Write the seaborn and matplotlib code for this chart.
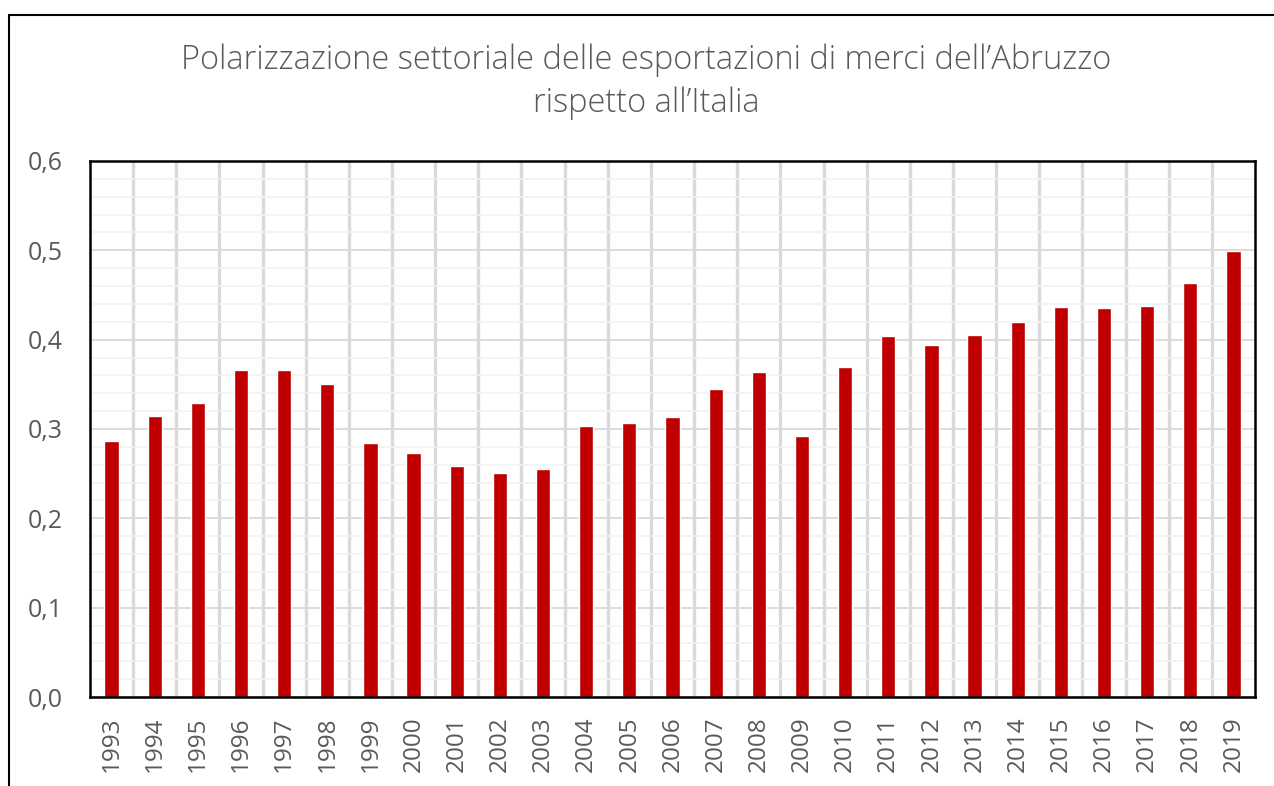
import matplotlib
matplotlib.use("Agg")
import matplotlib.pyplot as plt
import seaborn as sns
import pandas as pd
import numpy as np
from matplotlib.patches import Rectangle
from matplotlib.ticker import MultipleLocator, FuncFormatter

years = [str(y) for y in range(1993, 2020)]
values = [0.287, 0.315, 0.329, 0.366, 0.366, 0.350, 0.284, 0.273, 0.259, 0.251,
          0.255, 0.303, 0.307, 0.313, 0.345, 0.364, 0.292, 0.369, 0.404, 0.394,
          0.405, 0.420, 0.437, 0.435, 0.438, 0.463, 0.499]
title_lines = ["Polarizzazione settoriale delle esportazioni di merci dell\u2019Abruzzo",
               "rispetto all\u2019Italia"]

df = pd.DataFrame({"anno": years, "valore": values})

sns.set_theme(style="white")
plt.rcParams['font.family'] = ['Open Sans', 'DejaVu Sans']

fig = plt.figure(figsize=(12.74, 7.86), dpi=100)
ax = fig.add_axes([90/1274, 1-697/786, (1255-90)/1274, (697-161)/786])

# gridlines
ax.set_ylim(0, 0.6)
ax.yaxis.set_major_locator(MultipleLocator(0.1))
ax.yaxis.set_minor_locator(MultipleLocator(0.02))
ax.grid(axis='y', which='minor', color='#F2F2F2', lw=1.2, zorder=0)
ax.grid(axis='y', which='major', color='#D9D9D9', lw=1.3, zorder=0)
for i in range(len(years) - 1):
    ax.axvline(i + 0.5, color='#D9D9D9', lw=2.4, zorder=0.5)
ax.set_axisbelow(True)

sns.barplot(data=df, x="anno", y="valore", color="#C00000", saturation=1,
            width=0.33, ax=ax, zorder=2)
ax.set_xlim(-0.5, len(years) - 0.5)
ax.set_ylim(0, 0.6)
ax.set_xlabel("")
ax.set_ylabel("")

ax.yaxis.set_major_formatter(FuncFormatter(lambda v, p: f"{v:.1f}".replace(".", ",")))
ax.tick_params(axis='y', which='both', length=0, pad=19.5, labelsize=18, labelcolor='#595959')
ax.tick_params(axis='x', length=0, pad=14, labelsize=17.5, labelcolor='#595959', rotation=90)

for s in ax.spines.values():
    s.set_visible(True)
    s.set_color('black')
    s.set_linewidth(1.8)

fig.text(646/1274, 1-60/786, title_lines[0], ha='center', va='center',
         fontsize=23.5, color='#595959', fontweight='light')
fig.text(646/1274, 1-103/786, title_lines[1], ha='center', va='center',
         fontsize=23.5, color='#595959', fontweight='light')

fig.patches.append(Rectangle((9/1274, -0.1), 1.2, 1.1 - 15/786, transform=fig.transFigure,
                             fill=False, edgecolor='black', lw=1.5, zorder=10))

fig.savefig("out.png", dpi=100)
